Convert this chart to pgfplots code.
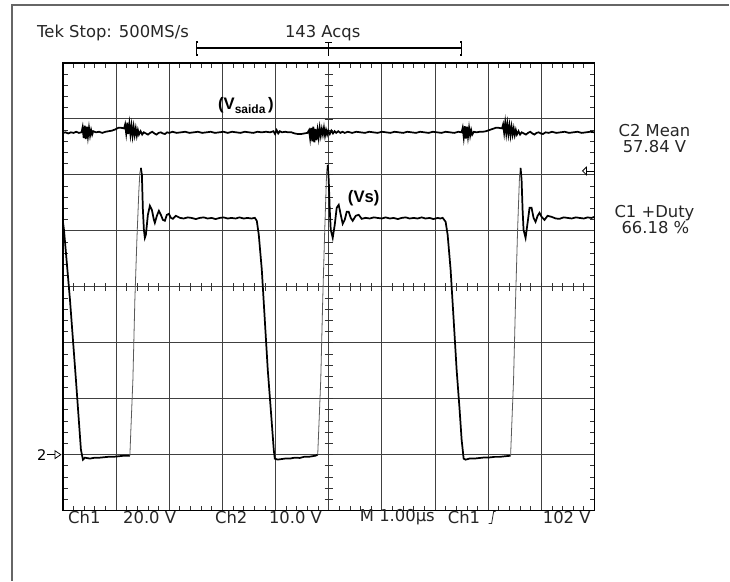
\documentclass[border=0pt]{standalone}
\usepackage{pgfplots}
\pgfplotsset{compat=1.18}
\usepackage{fontspec}
\setmainfont{DejaVu Sans}
\newfontfamily\lib{Liberation Sans}
\begin{document}
\begin{tikzpicture}
\begin{axis}[
  scale only axis, width=399pt, height=336pt,
  xmin=0, xmax=10, ymin=0, ymax=8,
  xtick={0,...,10}, ytick={0,...,8},
  xticklabels={}, yticklabels={},
  minor tick num=4,
  major tick length=0pt, minor tick length=3.5pt,
  tick align=inside,
  tick style={black!80, line width=0.6pt},
  grid=major,
  major grid style={black!75, line width=0.75pt},
  axis line style={black, line width=0.9pt},
  clip=false,
]
% bounding box of the whole screen
\path (axis cs:-1.1842,9.125) rectangle (axis cs:12.5376,-1.25);
% outer frame (left and top)
\draw[black!60, line width=0.9pt] (axis cs:-0.959,-1.25) -- (axis cs:-0.959,9.036) -- (axis cs:12.5376,9.036);
% centre crosshair ticks
\pgfplotsinvokeforeach{0.2,0.4,...,9.81}{\draw[black!80, line width=0.6pt] (axis cs:#1,4) ++(0,-3pt) -- ++(0,6pt);}
\pgfplotsinvokeforeach{0.2,0.4,...,7.81}{\draw[black!80, line width=0.6pt] (axis cs:5,#1) ++(-3pt,0) -- ++(6pt,0);}

% Ch2 (V_saida)
\addplot[black, line width=1.3pt] table {
0 6.75
0.05 6.76
0.10 6.74
0.15 6.76
0.20 6.75
0.25 6.77
0.30 6.75
0.35 6.76
0.37 6.85
0.39 6.66
0.41 6.88
0.43 6.64
0.45 6.86
0.47 6.68
0.49 6.84
0.51 6.70
0.53 6.80
0.55 6.72
0.57 6.78
0.62 6.76
0.68 6.77
0.74 6.75
0.80 6.77
0.86 6.78
0.92 6.79
0.98 6.81
1.04 6.84
1.10 6.84
1.15 6.83
1.17 6.90
1.19 6.74
1.21 6.93
1.23 6.73
1.25 6.91
1.27 6.72
1.29 6.88
1.31 6.70
1.33 6.86
1.35 6.71
1.37 6.83
1.39 6.70
1.41 6.80
1.43 6.72
1.46 6.78
1.49 6.72
1.52 6.76
1.56 6.74
1.60 6.72
1.64 6.75
1.68 6.77
1.72 6.74
1.76 6.72
1.80 6.75
1.84 6.76
1.88 6.74
1.92 6.73
1.96 6.76
2.00 6.75
2.06 6.77
2.14 6.75
2.22 6.76
2.30 6.77
2.38 6.75
2.46 6.76
2.54 6.77
2.62 6.75
2.70 6.76
2.78 6.77
2.86 6.75
2.94 6.76
3.02 6.77
3.10 6.75
3.18 6.77
3.26 6.76
3.34 6.75
3.42 6.77
3.50 6.76
3.58 6.75
3.66 6.77
3.74 6.76
3.82 6.77
3.90 6.76
3.96 6.78
3.99 6.73
4.02 6.80
4.05 6.74
4.08 6.78
4.12 6.76
4.18 6.77
4.24 6.76
4.30 6.76
4.36 6.74
4.42 6.73
4.48 6.73
4.54 6.74
4.60 6.75
4.63 6.80
4.65 6.65
4.67 6.84
4.69 6.60
4.71 6.86
4.73 6.58
4.75 6.82
4.77 6.62
4.79 6.80
4.81 6.66
4.83 6.84
4.85 6.70
4.87 6.82
4.89 6.72
4.91 6.84
4.93 6.70
4.95 6.80
4.97 6.72
4.99 6.79
5.02 6.73
5.05 6.79
5.08 6.74
5.11 6.78
5.14 6.75
5.18 6.78
5.22 6.75
5.26 6.77
5.30 6.75
5.36 6.77
5.44 6.75
5.52 6.77
5.60 6.76
5.68 6.75
5.76 6.77
5.84 6.76
5.92 6.75
6.00 6.77
6.08 6.76
6.16 6.75
6.24 6.77
6.32 6.76
6.40 6.75
6.48 6.77
6.56 6.76
6.64 6.75
6.72 6.77
6.80 6.76
6.88 6.75
6.96 6.77
7.04 6.76
7.12 6.75
7.20 6.77
7.28 6.76
7.36 6.75
7.44 6.77
7.50 6.76
7.52 6.84
7.54 6.67
7.56 6.87
7.58 6.65
7.60 6.86
7.62 6.68
7.64 6.84
7.66 6.70
7.68 6.80
7.70 6.72
7.73 6.77
7.78 6.76
7.84 6.77
7.90 6.77
7.96 6.78
8.02 6.80
8.08 6.82
8.14 6.84
8.20 6.84
8.26 6.83
8.28 6.90
8.30 6.75
8.32 6.93
8.34 6.74
8.36 6.91
8.38 6.73
8.40 6.88
8.42 6.71
8.44 6.86
8.46 6.72
8.48 6.83
8.50 6.71
8.52 6.80
8.54 6.72
8.57 6.78
8.60 6.72
8.63 6.76
8.67 6.74
8.71 6.72
8.75 6.75
8.79 6.77
8.83 6.74
8.87 6.72
8.91 6.75
8.95 6.76
8.99 6.74
9.03 6.73
9.08 6.76
9.14 6.75
9.20 6.77
9.28 6.75
9.36 6.76
9.44 6.77
9.52 6.75
9.60 6.76
9.68 6.77
9.76 6.75
9.84 6.76
9.92 6.77
10.0 6.76
};

% Ch1 (Vs): thick parts
\addplot[black, line width=1.3pt] table {
0 5.16
0.019 5.02
0.132 3.77
0.244 2.34
0.338 1.09
0.376 0.91
0.414 0.946
0.508 0.929
0.602 0.946
0.695 0.946
0.789 0.955
0.883 0.964
0.977 0.964
1.071 0.973
1.165 0.982
1.259 0.982
};
\addplot[black!65, line width=0.6pt] table {
1.259 0.982
1.278 1.446
1.316 2.339
1.353 3.768
1.391 4.839
1.429 5.732
1.447 6.036
1.466 6.125
};
\addplot[black, line width=1.3pt] table {
1.466 6.125
1.485 6.0
1.504 5.375
1.523 5.018
1.541 4.875
1.560 4.929
1.598 5.286
1.635 5.446
1.673 5.375
1.711 5.196
1.729 5.143
1.767 5.268
1.805 5.357
1.842 5.286
1.880 5.196
1.917 5.179
1.955 5.286
1.992 5.304
2.030 5.232
2.068 5.214
2.124 5.268
2.199 5.232
2.27 5.22
2.35 5.24
2.42 5.23
2.50 5.21
2.57 5.23
2.65 5.24
2.72 5.22
2.80 5.23
2.87 5.21
2.95 5.23
3.02 5.24
3.10 5.22
3.17 5.23
3.25 5.22
3.32 5.24
3.40 5.22
3.47 5.23
3.55 5.22
3.609 5.232
3.647 5.179
3.684 4.929
3.741 4.304
3.797 3.411
3.853 2.518
3.910 1.804
3.966 1.089
3.985 0.929
4.041 0.911
4.173 0.929
4.267 0.929
4.361 0.946
4.455 0.941
4.549 0.964
4.643 0.964
4.756 0.982
4.793 1.0
};
\addplot[black!65, line width=0.6pt] table {
4.793 1.0
4.812 1.446
4.850 2.339
4.887 3.768
4.925 5.018
4.962 6.089
4.981 6.179
};
\addplot[black, line width=1.3pt] table {
4.981 6.179
5.0 5.911
5.019 5.375
5.038 5.018
5.075 4.875
5.113 5.107
5.150 5.411
5.188 5.464
5.226 5.286
5.263 5.125
5.301 5.196
5.338 5.339
5.376 5.339
5.414 5.232
5.451 5.179
5.508 5.268
5.564 5.286
5.620 5.214
5.695 5.232
5.77 5.22
5.85 5.24
5.92 5.23
6.00 5.22
6.07 5.24
6.15 5.22
6.22 5.23
6.30 5.21
6.37 5.23
6.45 5.24
6.52 5.22
6.60 5.23
6.67 5.22
6.75 5.24
6.82 5.22
6.90 5.23
6.97 5.21
7.05 5.23
7.10 5.22
7.143 5.232
7.199 5.161
7.237 4.929
7.293 4.304
7.350 3.411
7.406 2.518
7.462 1.804
7.500 1.268
7.538 0.929
7.575 0.91
7.650 0.93
7.744 0.93
7.838 0.94
7.932 0.95
8.026 0.95
8.120 0.96
8.214 0.96
8.308 0.97
8.421 0.98
};
\addplot[black!65, line width=0.6pt] table {
8.421 0.98
8.440 1.446
8.477 2.339
8.515 3.768
8.553 5.018
8.590 6.0
8.609 6.125
};
\addplot[black, line width=1.3pt] table {
8.609 6.125
8.628 5.911
8.647 5.375
8.665 5.018
8.703 4.875
8.741 5.143
8.778 5.411
8.816 5.411
8.853 5.232
8.891 5.161
8.929 5.268
8.966 5.321
9.004 5.25
9.060 5.196
9.117 5.268
9.192 5.25
9.27 5.22
9.342 5.214
9.42 5.24
9.50 5.23
9.57 5.22
9.65 5.24
9.72 5.23
9.80 5.22
9.87 5.24
9.94 5.23
10.0 5.25
};

% header texts
\node[anchor=west, font=\fontsize{12.3}{14}\selectfont, text=black!85, inner sep=0pt] at (axis cs:-0.489,8.536) {Tek Stop: 500MS/s};
\node[anchor=west, font=\fontsize{12.3}{14}\selectfont, text=black!85, inner sep=0pt] at (axis cs:4.173,8.536) {143 Acqs};
% record-length bracket
\draw[black, line width=0.9pt] (axis cs:2.519,8.268) -- (axis cs:7.5,8.268);
\draw[black, line width=0.9pt] (axis cs:2.55,8.375) -- (axis cs:2.519,8.375) -- (axis cs:2.519,8.143) -- (axis cs:2.55,8.143);
\draw[black, line width=0.9pt] (axis cs:7.47,8.375) -- (axis cs:7.5,8.375) -- (axis cs:7.5,8.143) -- (axis cs:7.47,8.143);
\draw[black, line width=0.6pt] (axis cs:4.93,8.36) -- (axis cs:5.07,8.36);
\draw[black, line width=0.6pt] (axis cs:5,8.36) -- (axis cs:5,8.12);

% trace labels
\node[anchor=west, font=\lib\bfseries\fontsize{12.5}{14}\selectfont, inner sep=0pt] at (axis cs:2.914,7.24) {(V\raisebox{-0.45ex}{\fontsize{9}{10}\selectfont saida}\,)};
\node[anchor=west, font=\lib\bfseries\fontsize{12.5}{14}\selectfont, inner sep=0pt] at (axis cs:5.357,5.589) {(Vs)};

% measurements
\node[font=\fontsize{12.3}{14}\selectfont, text=black!85, inner sep=0pt] at (axis cs:11.128,6.786) {C2 Mean};
\node[font=\fontsize{12.3}{14}\selectfont, text=black!85, inner sep=0pt] at (axis cs:11.128,6.50) {57.84 V};
\node[font=\fontsize{12.3}{14}\selectfont, text=black!85, inner sep=0pt] at (axis cs:11.128,5.321) {C1 +Duty};
\node[font=\fontsize{12.3}{14}\selectfont, text=black!85, inner sep=0pt] at (axis cs:11.145,5.054) {66.18 \%};

% bottom readout
\node[anchor=west, font=\fontsize{12.3}{14}\selectfont, text=black!85, inner sep=0pt] at (axis cs:0.094,-0.125) {Ch1};
\node[anchor=west, font=\fontsize{12.3}{14}\selectfont, text=black!85, inner sep=0pt] at (axis cs:1.128,-0.125) {20.0 V};
\node[anchor=west, font=\fontsize{12.3}{14}\selectfont, text=black!85, inner sep=0pt] at (axis cs:2.857,-0.125) {Ch2};
\node[anchor=west, font=\fontsize{12.3}{14}\selectfont, text=black!85, inner sep=0pt] at (axis cs:3.872,-0.125) {10.0 V};
\node[anchor=west, font=\fontsize{12.3}{14}\selectfont, text=black!85, inner sep=0pt] at (axis cs:5.583,-0.125) {M 1.00µs};
\node[anchor=west, font=\fontsize{12.3}{14}\selectfont, text=black!85, inner sep=0pt] at (axis cs:7.237,-0.125) {Ch1};
\draw[black!85, line width=0.6pt] (axis cs:8.008,-0.232) -- (axis cs:8.064,-0.232) -- (axis cs:8.102,-0.018) -- (axis cs:8.139,-0.018);
\node[anchor=west, font=\fontsize{12.3}{14}\selectfont, text=black!85, inner sep=0pt] at (axis cs:9.023,-0.125) {102 V};

% ground marker and trigger marker
\node[font=\fontsize{11}{12}\selectfont, inner sep=0pt] at (axis cs:-0.40,1.0) {2};
\draw[black, line width=0.6pt] (axis cs:-0.30,1.0) -- (axis cs:-0.15,1.0);
\draw[black, line width=0.6pt] (axis cs:-0.15,1.07) -- (axis cs:-0.04,1.0) -- (axis cs:-0.15,0.93) -- cycle;
\draw[black, line width=0.6pt] (axis cs:9.774,6.07) -- (axis cs:9.85,6.14) -- (axis cs:9.85,6.0) -- cycle;
\draw[black, line width=0.6pt] (axis cs:9.85,6.07) -- (axis cs:10,6.07);
\end{axis}
\end{tikzpicture}
\end{document}
